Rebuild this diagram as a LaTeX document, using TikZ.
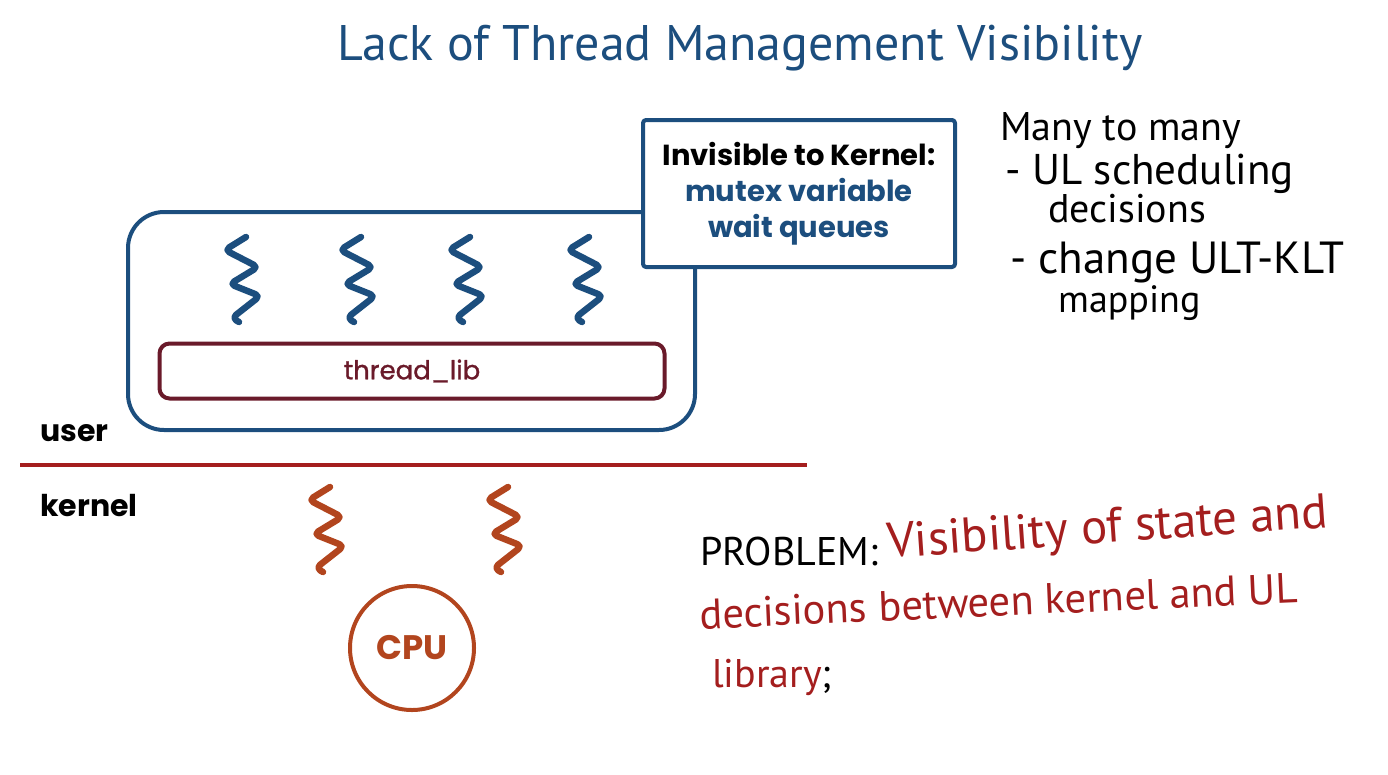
\documentclass[tikz,border=0pt]{standalone}
\usepackage{fontspec}
\usepackage{xcolor}
\usepackage{tikz}
\usetikzlibrary{calc}
\usetikzlibrary{positioning}
\newfontfamily\boxfont{Poppins}
\newfontfamily\boxsemi[FakeBold=1.2]{Poppins}
\newfontfamily\handfont{PT Sans}
\definecolor{udblue}{HTML}{1C4E7E}
\definecolor{udmaroon}{HTML}{6A1A2A}
\definecolor{udred}{HTML}{A41E1E}
\definecolor{udorange}{HTML}{B2451E}

\begin{document}
\begin{tikzpicture}[
		x=1pt, y=-1pt,
		main/.style={
			line width=4pt,
			line join=round
			},
		thread/.pic={
			\draw[pic actions, line width=6.5pt, rounded corners=5pt, line cap=round, line join=round] (4,2) -- (-17,15) -- (16,32) -- (-12,49) -- (18,61) -- (-10,83) -- (-3,87);
			},
		label/.style={inner sep=0pt, font=\boxfont\bfseries\fontsize{30}{34}\selectfont},
		hand/.style={inner sep=0pt, anchor=base west, font=\handfont\fontsize{40}{44}\selectfont}
		]
		\useasboundingbox (0,0) rectangle (1388,774);
		
		% title
		\node[hand, anchor=base, text=udblue, font=\handfont\fontsize{50}{54}\selectfont] (title) at (740,60) {Lack of Thread Management Visibility};
		
		% user level process
		\draw[main, udblue, rounded corners=36pt] (128,212) rectangle (695,430);
		\node[main, draw=udmaroon, rounded corners=10pt, minimum width=505pt, minimum height=55pt, label, text=udmaroon, font=\boxsemi\fontsize{26}{30}\selectfont] (lib) at (412,371) {thread\_lib};
		\foreach \x/\n in {242/1, 357/2, 466/3, 585/4}
			\pic[udblue] (ult\n) at (\x,235) {thread};
		
		% callout
		\node[main, draw=udblue, fill=white, rounded corners=3pt, minimum width=312pt, minimum height=147pt, align=center, label, font=\boxfont\bfseries\fontsize{29}{33}\selectfont] (inv) at (799,193.5) {Invisible to Kernel:\\[3pt]\textcolor{udblue}{mutex variable}\\[3pt]\textcolor{udblue}{wait queues}};
		
		% user / kernel boundary
		\coordinate (bl) at (20,465);
		\coordinate (br) at (807,465);
		\draw[main, udred] (bl) -- (br);
		\node[label, anchor=base west] (user) at (40,441) {user};
		\node[label, anchor=base west] (kernel) at (40,516) {kernel};
		
		% kernel threads and cpu
		\foreach \x/\n in {326/1, 504/2}
			\pic[udorange] (klt\n) at (\x,485) {thread};
		\node[main, draw=udorange, circle, minimum size=124pt, label, text=udorange, font=\boxfont\bfseries\fontsize{34}{38}\selectfont] (cpu) at (412,648) {CPU};
		
		% notes
		\node[hand] (n1) at (1000,140) {Many to many};
		\node[hand, font=\handfont\fontsize{43}{48}\selectfont] (n2) at (1005,184) {- UL scheduling};
		\node[hand] (n3) at (1048,222) {decisions};
		\node[hand, font=\handfont\fontsize{45}{50}\selectfont] (n4) at (1010,273) {- change ULT-KLT};
		\node[hand, font=\handfont\fontsize{38}{42}\selectfont] (n5) at (1058,312) {mapping};
		
		% problem
		\node[hand] (pb) at (700,565) {PROBLEM:};
		\node[hand, text=udred, font=\handfont\fontsize{49}{54}\selectfont, rotate=4] (p1) at (888,558) {Visibility of state and};
		\node[hand, text=udred, font=\handfont\fontsize{42.5}{48}\selectfont, rotate=2.5] (p2) at (700,629) {decisions between kernel and UL};
		\node[hand, text=udred, font=\handfont\fontsize{40}{44}\selectfont] (p3) at (712,687) {library\textcolor{black}{;}};
	\end{tikzpicture}
\end{document}
